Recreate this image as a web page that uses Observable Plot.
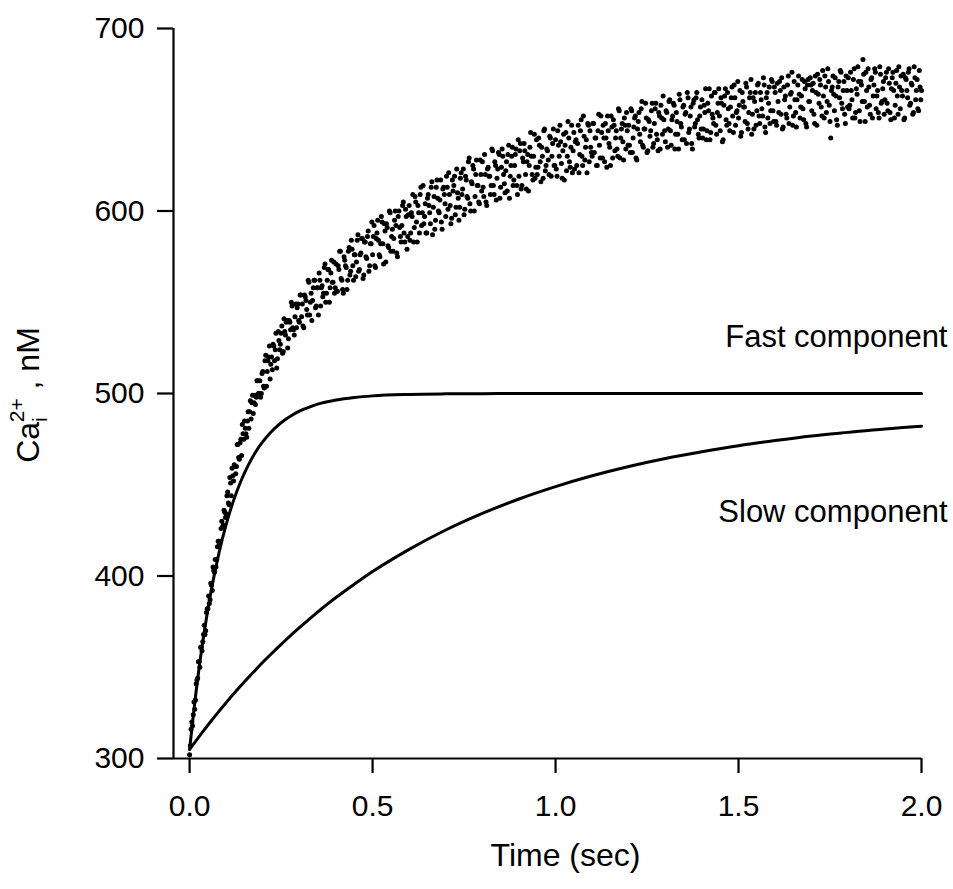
<!DOCTYPE html>
<html><head><meta charset="utf-8">
<script src="https://cdn.jsdelivr.net/npm/d3@7"></script>
<script src="https://cdn.jsdelivr.net/npm/@observablehq/plot@0.6"></script>
<style>body{margin:0;background:#fff} svg{display:block}</style>
</head><body><div id="chart"></div>
<script>
// sampling interval of the recorded trace (sec); two interleaved sample sets
const sampleInterval = 0.004;
// measured Ca_i (nM), samples at t = 0, 0.004, ... 2.0 s
const caValuesA = [
302,316,318,331,332,343,353,350,361,364,373,370,382,389,387,395,405,402,405,416,419,419,430,428,435,
434,446,439,451,459,452,460,460,472,464,475,483,475,481,476,490,490,486,499,495,494,507,500,507,500,
512,503,521,512,520,508,520,527,518,533,519,529,527,537,523,534,539,525,540,535,548,535,542,536,549,
539,554,549,536,553,546,562,543,555,551,562,547,558,543,562,558,553,569,550,562,568,558,573,561,555,
571,556,568,578,562,555,573,569,562,580,567,579,562,576,572,587,568,577,585,565,583,574,589,570,582,
576,592,569,588,584,575,597,582,593,572,591,580,599,586,578,595,592,575,600,586,592,605,583,597,586,
603,588,597,583,608,594,603,588,613,599,593,604,588,609,599,613,587,608,595,617,600,606,594,612,609,
597,613,621,603,596,611,619,602,610,595,618,609,623,601,617,607,629,600,615,623,608,628,614,604,620,
627,608,620,603,624,619,614,633,609,625,618,632,607,624,630,615,622,611,636,619,630,614,625,634,609,
619,637,614,627,633,612,631,625,643,620,630,618,639,624,636,616,630,644,622,634,628,641,619,637,625,
639,619,636,647,626,633,617,643,630,640,624,647,633,623,639,637,621,644,630,652,628,639,648,627,635,
630,648,640,625,644,636,652,629,640,648,624,644,635,652,629,647,640,634,656,629,645,638,651,634,644,
647,632,655,640,651,629,645,654,638,660,635,645,651,633,649,644,659,637,656,642,633,652,658,642,650,
638,654,645,661,636,652,658,642,649,634,661,646,657,639,654,665,643,652,637,659,646,662,650,640,657,
661,645,654,639,659,667,643,653,648,665,642,659,652,662,638,658,667,647,656,644,662,652,669,647,655,
651,666,643,660,657,670,648,654,665,642,662,660,647,669,652,665,656,673,646,662,651,668,655,671,649,
665,647,660,671,653,645,668,663,651,674,657,665,647,671,654,661,674,651,663,656,671,648,669,660,673,
655,670,648,665,675,659,669,652,663,674,654,678,658,640,668,664,673,650,668,662,676,656,671,648,666,
673,658,666,651,678,654,664,671,649,669,683,660,676,657,668,653,673,663,678,656,666,651,675,660,671,
661,676,655,670,650,673,666,658,677,653,668,674,663,650,673,666,676,658,670,653,679,661,672,655,668,
666
];
// measured Ca_i (nM), samples at t = 0.002, 0.006, ... 1.998 s
const caValuesB = [
307,320,324,327,341,344,353,361,359,368,368,380,382,385,396,392,403,409,409,419,417,426,427,436,432,
444,440,454,444,455,461,456,472,465,473,466,478,485,478,485,481,496,495,489,499,498,507,500,498,511,
504,518,504,518,526,516,513,526,524,514,534,524,533,522,541,532,540,530,539,550,536,532,549,547,540,
554,542,537,554,551,543,561,550,540,558,562,548,558,566,548,559,555,571,555,568,550,566,561,572,558,
556,570,578,563,557,575,570,557,578,565,584,570,576,564,584,567,576,585,563,583,575,586,567,582,594,
586,570,585,595,576,582,594,571,589,593,581,600,578,590,585,600,577,597,591,583,603,588,601,579,598,
584,599,609,591,605,583,599,609,592,614,597,588,607,603,593,616,602,590,613,607,599,617,590,613,604,
619,601,609,593,617,614,598,623,607,602,621,612,598,619,608,627,604,616,625,600,620,614,605,628,611,
613,631,605,623,619,609,634,614,627,606,623,631,613,634,620,610,627,631,607,625,635,617,631,614,639,
633,612,629,637,620,627,611,635,630,617,642,624,620,640,627,635,618,645,625,633,620,640,630,645,625,
623,644,630,638,618,642,636,622,649,627,635,621,643,638,625,647,631,650,625,641,635,621,647,644,632,
648,632,640,625,653,629,643,647,627,640,652,637,625,646,650,633,644,630,655,640,648,628,647,654,636,
636,656,632,646,652,628,649,642,656,636,645,659,632,650,641,655,635,648,659,639,654,634,651,663,644,
655,635,660,644,650,659,634,654,642,664,648,639,658,653,637,662,645,657,634,661,648,665,642,652,645,
640,658,667,644,655,639,663,651,665,647,654,667,644,659,639,663,650,665,648,657,668,643,662,654,671,
658,641,665,657,649,668,645,662,672,653,645,665,655,670,648,661,652,669,643,665,659,648,672,655,668,
649,670,654,666,673,646,661,653,669,648,664,676,652,661,646,669,664,657,672,650,667,646,672,660,669,
666,653,674,647,664,672,657,677,651,668,660,671,649,666,674,655,663,647,671,677,659,666,653,674,657,
656,676,661,672,651,667,679,655,671,660,675,649,666,678,658,672,651,669,676,663,654,679,659,667,653,
673,659,678,654,667,676,651,670,663,679,656,666,675,651,672,662,678,659,669,654,673,666,656,677,661
];
// fitted components
const curveTimes = [0,0.02,0.04,0.06,0.08,0.10,0.12,0.14,0.16,0.18,0.20,0.22,0.24,0.26,0.28,0.30,0.32,0.34,0.36,0.38,0.40,0.45,0.50,0.60,0.70,0.80,0.90,1.00,1.10,1.20,1.30,1.40,1.50,1.60,1.70,1.80,1.90,2.00];
const fastValues = [305,340.4,369.3,393.0,412.4,428.3,441.3,451.9,460.6,467.8,473.6,478.4,482.3,485.5,488.1,490.3,492.0,493.5,494.7,495.6,496.4,497.8,498.7,499.5,499.8,499.9,500,500,500,500,500,500,500,500,500,500,500,500];
const slowValues = [305,310.4,315.7,320.8,325.8,330.6,335.3,339.8,344.2,348.5,352.7,356.7,360.6,364.4,368.1,371.7,375.2,378.6,381.9,385.1,388.2,395.5,402.4,414.6,425.2,434.3,442.2,449.0,454.9,460.0,464.4,468.1,471.4,474.2,476.7,478.7,480.6,482.1];
const xTicks = [0, 0.5, 1.0, 1.5, 2.0];
const yTicks = [300, 400, 500, 600, 700];
const componentLabels = ["Fast component", "Slow component"];
const xTitle = "Time (sec)";

const points = [
  ...caValuesA.map((v, i) => ({t: i * sampleInterval, ca: v})),
  ...caValuesB.map((v, i) => ({t: (i + 0.5) * sampleInterval, ca: v}))
];
const fast = curveTimes.map((t, i) => ({t, ca: fastValues[i]}));
const slow = curveTimes.map((t, i) => ({t, ca: slowValues[i]}));
const xMin = -0.044;
const font = "'Liberation Sans', Arial, Helvetica, sans-serif";

const chart = Plot.plot({
  width: 953, height: 889,
  marginLeft: 173, marginRight: 32, marginTop: 28, marginBottom: 131,
  style: {fontFamily: font, fontSize: "30px", color: "#000", background: "#fff"},
  x: {domain: [xMin, 2]},
  y: {domain: [300, 700]},
  marks: [
    Plot.axisX({ticks: xTicks, tickFormat: d => d.toFixed(1), tickSize: 15, tickPadding: 21, strokeWidth: 2.2, label: null, fontSize: 30}),
    Plot.axisY({ticks: yTicks, tickSize: 16, tickPadding: 13, strokeWidth: 2.2, label: null, fontSize: 30}),
    Plot.ruleX([xMin], {y1: 300, y2: 700, strokeWidth: 2.2}),
    Plot.ruleY([300], {strokeWidth: 2.2}),
    Plot.dot(points, {x: "t", y: "ca", r: 2.5, fill: "#000", stroke: null}),
    Plot.line(fast, {x: "t", y: "ca", curve: "monotone-x", strokeWidth: 3}),
    Plot.line(slow, {x: "t", y: "ca", curve: "monotone-x", strokeWidth: 3}),
    Plot.text([fast[fast.length - 1]], {x: "t", y: "ca", text: () => componentLabels[0], textAnchor: "end", dx: 26, dy: -56, fontSize: 31}),
    Plot.text([slow[slow.length - 1]], {x: "t", y: "ca", text: () => componentLabels[1], textAnchor: "end", dx: 26, dy: 86, fontSize: 31}),
    Plot.text([xTitle], {frameAnchor: "bottom", dx: 18, dy: 107, fontSize: 32})
  ]
});
document.getElementById("chart").appendChild(chart);

// y-axis title with subscript / superscript
const yt = d3.select(chart).append("text")
  .attr("transform", "translate(39,395) rotate(-90)")
  .attr("text-anchor", "middle")
  .attr("font-family", font)
  .attr("font-size", 32)
  .attr("fill", "#000");
yt.append("tspan").text("Ca");
yt.append("tspan").attr("font-size", 21).attr("dy", 8).text("i");
yt.append("tspan").attr("font-size", 21).attr("dx", -5).attr("dy", -23).text("2+");
yt.append("tspan").attr("dy", 15).text(" , nM");
</script>
</body></html>
